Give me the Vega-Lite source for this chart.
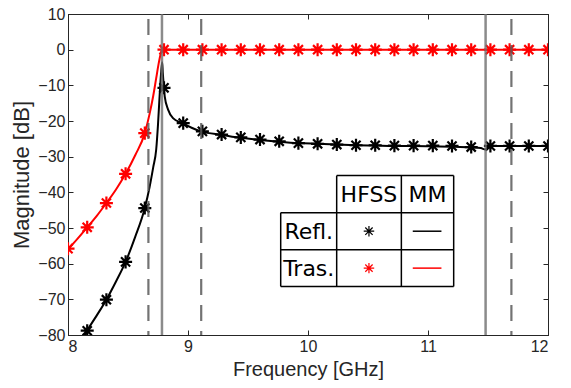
{
  "$schema": "https://vega.github.io/schema/vega-lite/v6.json",
  "width": 480,
  "height": 321,
  "autosize": {"type": "none"},
  "padding": {"left": 68, "top": 14, "right": 23, "bottom": 53},
  "background": "white",
  "config": {
    "view": {"stroke": "#262626", "strokeWidth": 1},
    "axis": {
      "labelFont": "Liberation Sans",
      "titleFont": "Liberation Sans",
      "labelFontSize": 16,
      "titleFontSize": 20,
      "titleFontWeight": "normal",
      "labelColor": "#262626",
      "titleColor": "#262626",
      "domainColor": "#262626",
      "tickColor": "#262626",
      "domainWidth": 1,
      "tickWidth": 1,
      "grid": false,
      "tickSize": -5
    }
  },
  "datasets": {
    "redLine": [
      {"f": 8.0, "db": -56.0}, {"f": 8.08, "db": -53.0}, {"f": 8.16, "db": -49.8}, {"f": 8.24, "db": -46.6},
      {"f": 8.32, "db": -43.0}, {"f": 8.4, "db": -39.2}, {"f": 8.48, "db": -34.8}, {"f": 8.56, "db": -29.6},
      {"f": 8.64, "db": -23.4}, {"f": 8.68, "db": -18.0}, {"f": 8.71, "db": -13.0}, {"f": 8.735, "db": -8.0},
      {"f": 8.755, "db": -4.0}, {"f": 8.77, "db": -1.5}, {"f": 8.78, "db": -0.3}, {"f": 8.79, "db": 0.0},
      {"f": 9.5, "db": 0.0}, {"f": 10.5, "db": 0.0}, {"f": 11.5, "db": 0.0}, {"f": 12.0, "db": 0.0}
    ],
    "blackLine": [
      {"f": 8.12, "db": -81.5}, {"f": 8.16, "db": -78.8}, {"f": 8.24, "db": -74.5}, {"f": 8.32, "db": -70.1},
      {"f": 8.4, "db": -65.0}, {"f": 8.48, "db": -59.5}, {"f": 8.56, "db": -52.5}, {"f": 8.64, "db": -44.4},
      {"f": 8.68, "db": -38.5}, {"f": 8.71, "db": -33.0}, {"f": 8.735, "db": -28.0}, {"f": 8.75, "db": -21.0},
      {"f": 8.765, "db": -12.0}, {"f": 8.777, "db": -6.0}, {"f": 8.785, "db": -3.5}, {"f": 8.79, "db": -6.5},
      {"f": 8.8, "db": -10.7}, {"f": 8.806, "db": -13.1}, {"f": 8.834, "db": -16.8}, {"f": 8.875, "db": -19.2},
      {"f": 8.953, "db": -20.6}, {"f": 9.03, "db": -21.9}, {"f": 9.11, "db": -22.9}, {"f": 9.28, "db": -23.9},
      {"f": 9.44, "db": -24.7}, {"f": 9.6, "db": -25.3}, {"f": 9.76, "db": -25.8}, {"f": 9.92, "db": -26.2},
      {"f": 10.08, "db": -26.4}, {"f": 10.24, "db": -26.6}, {"f": 10.4, "db": -26.8}, {"f": 10.56, "db": -26.9},
      {"f": 10.72, "db": -27.0}, {"f": 10.88, "db": -27.0}, {"f": 11.04, "db": -27.1}, {"f": 11.2, "db": -27.2},
      {"f": 11.36, "db": -27.4}, {"f": 11.44, "db": -27.6}, {"f": 11.48, "db": -28.0}, {"f": 11.5, "db": -27.2},
      {"f": 11.53, "db": -27.0}, {"f": 11.69, "db": -27.0}, {"f": 11.85, "db": -27.0}, {"f": 12.0, "db": -27.0}
    ],
    "redStars": [
      {"f": 8.0, "db": -55.8}, {"f": 8.16, "db": -49.8}, {"f": 8.32, "db": -43.0}, {"f": 8.48, "db": -34.8},
      {"f": 8.64, "db": -23.4}, {"f": 8.8, "db": 0}, {"f": 8.96, "db": 0}, {"f": 9.12, "db": 0},
      {"f": 9.28, "db": 0}, {"f": 9.44, "db": 0}, {"f": 9.6, "db": 0}, {"f": 9.76, "db": 0},
      {"f": 9.92, "db": 0}, {"f": 10.08, "db": 0}, {"f": 10.24, "db": 0}, {"f": 10.4, "db": 0},
      {"f": 10.56, "db": 0}, {"f": 10.72, "db": 0}, {"f": 10.88, "db": 0}, {"f": 11.04, "db": 0},
      {"f": 11.2, "db": 0}, {"f": 11.36, "db": 0}, {"f": 11.52, "db": 0}, {"f": 11.68, "db": 0},
      {"f": 11.84, "db": 0}, {"f": 12.0, "db": 0}
    ],
    "blackStars": [
      {"f": 8.16, "db": -78.8}, {"f": 8.32, "db": -70.1}, {"f": 8.48, "db": -59.5}, {"f": 8.64, "db": -44.4},
      {"f": 8.8, "db": -10.7}, {"f": 8.96, "db": -20.6}, {"f": 9.12, "db": -22.9}, {"f": 9.28, "db": -23.8},
      {"f": 9.44, "db": -24.6}, {"f": 9.6, "db": -25.2}, {"f": 9.76, "db": -25.7}, {"f": 9.92, "db": -26.2},
      {"f": 10.08, "db": -26.4}, {"f": 10.24, "db": -26.6}, {"f": 10.4, "db": -26.8}, {"f": 10.56, "db": -26.8},
      {"f": 10.72, "db": -26.9}, {"f": 10.88, "db": -26.9}, {"f": 11.04, "db": -26.9}, {"f": 11.2, "db": -27.0},
      {"f": 11.36, "db": -27.3}, {"f": 11.52, "db": -27.0}, {"f": 11.68, "db": -27.0}, {"f": 11.84, "db": -27.0},
      {"f": 12.0, "db": -27.0}
    ],
    "vlines": [
      {"f": 8.67, "kind": "dashed"}, {"f": 9.11, "kind": "dashed"}, {"f": 11.695, "kind": "dashed"},
      {"f": 8.783, "kind": "solid"}, {"f": 11.48, "kind": "solid"}
    ],
    "tableRules": [
      {"x": 10.239, "x2": 11.214, "y": -35.3, "y2": -35.3},
      {"x": 9.7725, "x2": 11.214, "y": -45.7, "y2": -45.7},
      {"x": 9.7725, "x2": 11.214, "y": -56.1, "y2": -56.1},
      {"x": 9.7725, "x2": 11.214, "y": -66.4, "y2": -66.4},
      {"x": 9.7725, "x2": 9.7725, "y": -45.7, "y2": -66.4},
      {"x": 10.239, "x2": 10.239, "y": -35.3, "y2": -66.4},
      {"x": 10.778, "x2": 10.778, "y": -35.3, "y2": -66.4},
      {"x": 11.214, "x2": 11.214, "y": -35.3, "y2": -66.4}
    ],
    "tableText": [
      {"x": 10.508, "y": -40.5, "t": "HFSS"},
      {"x": 10.996, "y": -40.5, "t": "MM"},
      {"x": 10.006, "y": -50.9, "t": "Refl."},
      {"x": 10.006, "y": -61.25, "t": "Tras."}
    ],
    "tableSym": [
      {"x": 10.508, "y": -50.9, "x1": 10.873, "x2": 11.112, "s": "Refl."},
      {"x": 10.508, "y": -61.25, "x1": 10.873, "x2": 11.112, "s": "Tras."}
    ]
  },
  "layer": [
    {
      "data": {"name": "redLine"},
      "mark": {"type": "line", "color": "#ff0000", "strokeWidth": 2, "interpolate": "monotone", "clip": true},
      "encoding": {
        "x": {"field": "f", "type": "quantitative", "scale": {"domain": [8, 12], "nice": false},
          "axis": {"orient": "bottom", "values": [8, 9, 10, 11, 12], "format": "d", "title": "Frequency [GHz]", "labelPadding": 8, "titlePadding": 5}},
        "y": {"field": "db", "type": "quantitative", "scale": {"domain": [-80, 10], "nice": false},
          "axis": {"orient": "left", "values": [-80, -70, -60, -50, -40, -30, -20, -10, 0, 10], "format": "d", "title": "Magnitude [dB]", "titleFontSize": 22, "labelPadding": 8, "titlePadding": 4}}
      }
    },
    {
      "data": {"name": "blackLine"},
      "mark": {"type": "line", "color": "#000000", "strokeWidth": 2, "interpolate": "monotone", "clip": true},
      "encoding": {
        "x": {"field": "f", "type": "quantitative",
          "axis": {"orient": "top", "values": [8, 9, 10, 11, 12], "labels": false, "title": null}},
        "y": {"field": "db", "type": "quantitative",
          "axis": {"orient": "right", "values": [-80, -70, -60, -50, -40, -30, -20, -10, 0, 10], "labels": false, "title": null}}
      }
    },
    {
      "data": {"name": "redStars"},
      "mark": {"type": "point", "shape": "M-1,0H1M0,-1V1M-0.7,-0.7L0.7,0.7M-0.7,0.7L0.7,-0.7", "filled": false, "color": "#ff0000", "strokeWidth": 2.2, "size": 170, "opacity": 1, "clip": true},
      "encoding": {
        "x": {"field": "f", "type": "quantitative", "axis": null},
        "y": {"field": "db", "type": "quantitative", "axis": null}
      }
    },
    {
      "data": {"name": "blackStars"},
      "mark": {"type": "point", "shape": "M-1,0H1M0,-1V1M-0.7,-0.7L0.7,0.7M-0.7,0.7L0.7,-0.7", "filled": false, "color": "#000000", "strokeWidth": 2.2, "size": 170, "opacity": 1, "clip": true},
      "encoding": {
        "x": {"field": "f", "type": "quantitative", "axis": null},
        "y": {"field": "db", "type": "quantitative", "axis": null}
      }
    },
    {
      "data": {"name": "vlines"},
      "transform": [{"filter": "datum.kind === 'dashed'"}],
      "mark": {"type": "rule", "color": "#5a5a5a", "strokeWidth": 2.2, "strokeDash": [16, 10], "strokeDashOffset": 21, "opacity": 0.85},
      "encoding": {
        "x": {"field": "f", "type": "quantitative", "axis": null}
      }
    },
    {
      "data": {"name": "vlines"},
      "transform": [{"filter": "datum.kind === 'solid'"}],
      "mark": {"type": "rule", "color": "#6e6e6e", "strokeWidth": 2.5, "opacity": 0.8},
      "encoding": {
        "x": {"field": "f", "type": "quantitative", "axis": null}
      }
    },
    {
      "data": {"name": "tableRules"},
      "mark": {"type": "rule", "color": "#000000", "strokeWidth": 1.5},
      "encoding": {
        "x": {"field": "x", "type": "quantitative", "axis": null},
        "x2": {"field": "x2"},
        "y": {"field": "y", "type": "quantitative", "axis": null},
        "y2": {"field": "y2"}
      }
    },
    {
      "data": {"name": "tableText"},
      "mark": {"type": "text", "font": "DejaVu Sans", "fontSize": 22, "color": "#000000", "align": "center", "baseline": "middle", "dy": 1},
      "encoding": {
        "x": {"field": "x", "type": "quantitative", "axis": null},
        "y": {"field": "y", "type": "quantitative", "axis": null},
        "text": {"field": "t"}
      }
    },
    {
      "data": {"name": "tableSym"},
      "mark": {"type": "point", "shape": "M-1,0H1M0,-1V1M-0.7,-0.7L0.7,0.7M-0.7,0.7L0.7,-0.7", "filled": false, "strokeWidth": 1.2, "size": 110, "opacity": 1},
      "encoding": {
        "x": {"field": "x", "type": "quantitative", "axis": null},
        "y": {"field": "y", "type": "quantitative", "axis": null},
        "color": {"field": "s", "type": "nominal", "scale": {"domain": ["Refl.", "Tras."], "range": ["#000000", "#ff0000"]}, "legend": null}
      }
    },
    {
      "data": {"name": "tableSym"},
      "mark": {"type": "rule", "strokeWidth": 1.5},
      "encoding": {
        "x": {"field": "x1", "type": "quantitative", "axis": null},
        "x2": {"field": "x2"},
        "y": {"field": "y", "type": "quantitative", "axis": null},
        "color": {"field": "s", "type": "nominal", "scale": {"domain": ["Refl.", "Tras."], "range": ["#000000", "#ff0000"]}, "legend": null}
      }
    }
  ],
  "resolve": {"axis": {"x": "independent", "y": "independent"}}
}
